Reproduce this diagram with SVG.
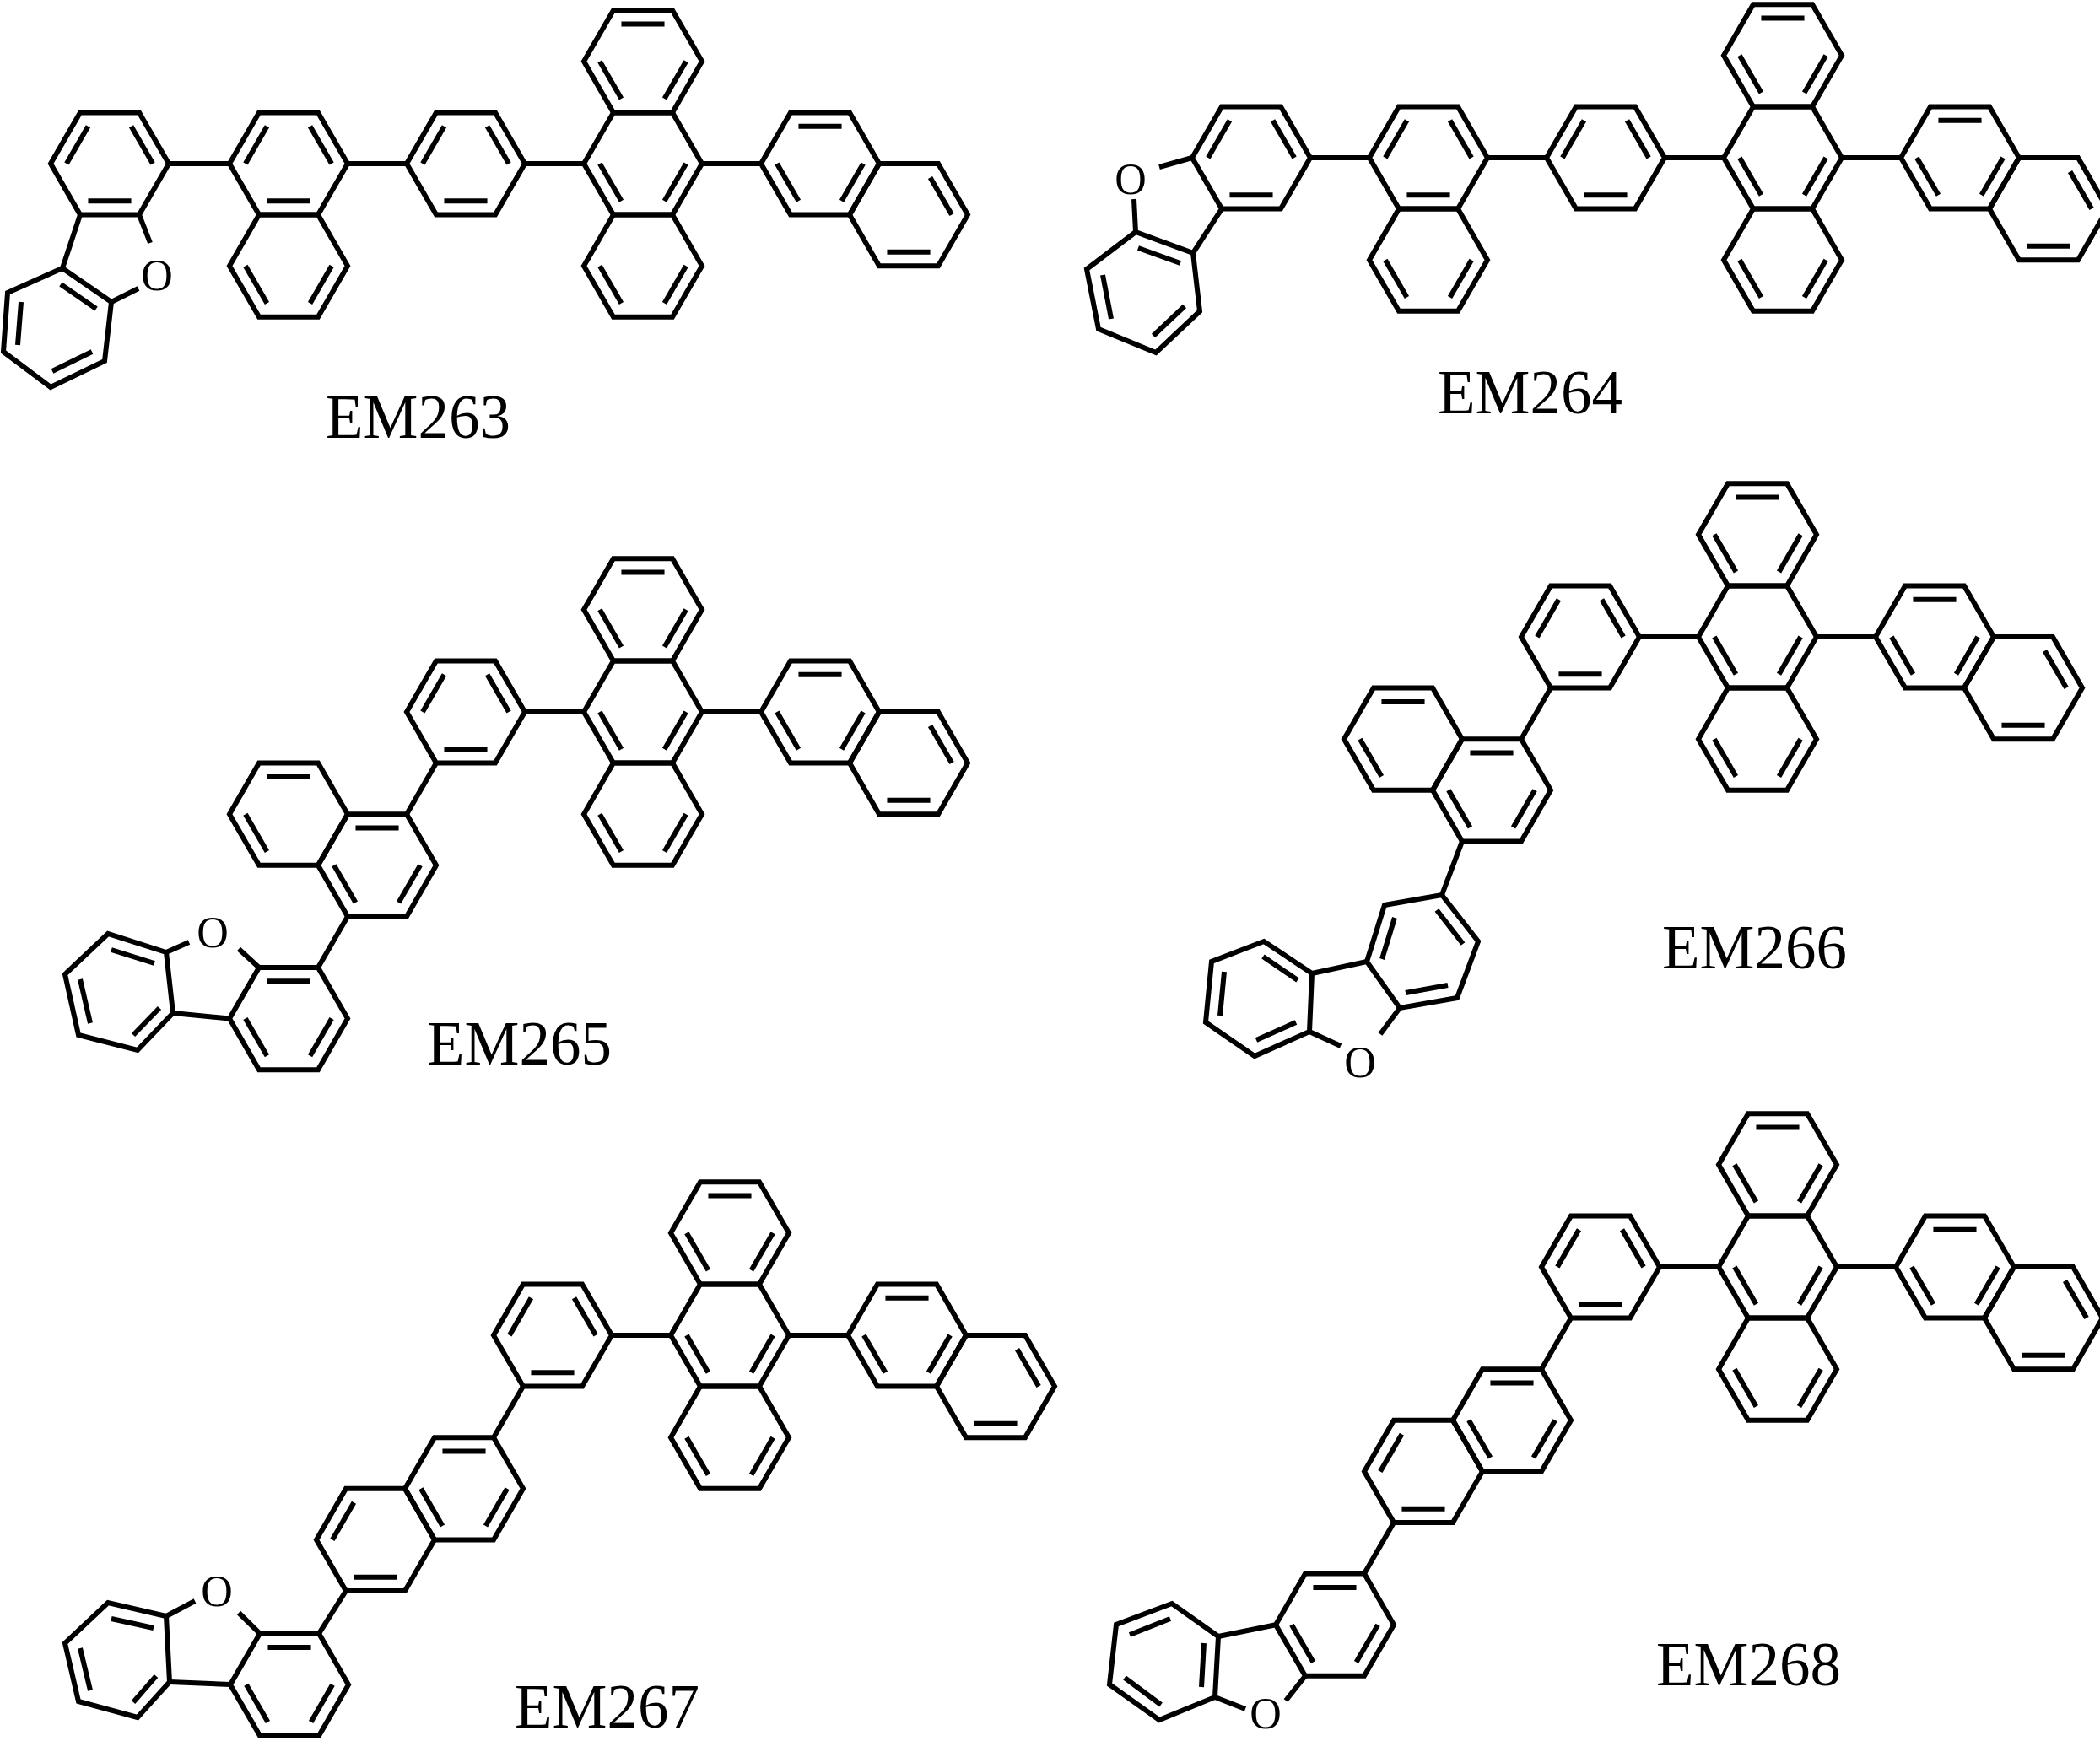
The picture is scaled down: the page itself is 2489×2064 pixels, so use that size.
<svg xmlns="http://www.w3.org/2000/svg" xmlns:xlink="http://www.w3.org/1999/xlink" width="2489" height="2064" viewBox="0 0 2489 2064">
<style>
.b,use,line,polygon{stroke:#000;stroke-width:6;fill:none;stroke-linejoin:miter}
text{font-family:"Liberation Serif","Times New Roman",serif;fill:#000}
.lbl{font-size:73px}
.o{font-size:52px;text-anchor:middle}
</style>
<defs>
<path id="hex" d="M70,0 L35,60.62 L-35,60.62 L-70,0 L-35,-60.62 L35,-60.62Z"/>
<path id="T" d="M-25.55,-44.24 L25.55,-44.24"/>
<path id="TR" d="M25.55,-44.24 L51.1,0"/>
<path id="BR" d="M51.1,0 L25.55,44.24"/>
<path id="B" d="M25.55,44.24 L-25.55,44.24"/>
<path id="BL" d="M-25.55,44.24 L-51.1,0"/>
<path id="TL" d="M-51.1,0 L-25.55,-44.24"/>
<g id="ph"><use href="#hex"/><use href="#TL"/><use href="#TR"/><use href="#B"/></g>
<g id="an">
<g transform="translate(0,-121.24)"><use href="#hex"/><use href="#T"/><use href="#BL"/><use href="#BR"/></g>
<use href="#hex"/><use href="#BL"/><use href="#BR"/>
<g transform="translate(0,121.24)"><use href="#hex"/><use href="#BL"/><use href="#BR"/></g>
<line x1="70" y1="0" x2="140" y2="0"/>
<line x1="-70" y1="0" x2="-140" y2="0"/>
<g transform="translate(210,0)"><use href="#hex"/><use href="#T"/><use href="#BL"/><use href="#BR"/></g>
<g transform="translate(315,60.62)"><use href="#hex"/><use href="#TR"/><use href="#B"/></g>
</g>
<g id="np14"><use href="#hex"/><use href="#TL"/><use href="#TR"/><use href="#B"/>
<g transform="translate(0,121.24)"><use href="#hex"/><use href="#BL"/><use href="#BR"/></g></g>
<g id="n1"><use href="#hex"/><use href="#T"/><use href="#BL"/><use href="#BR"/></g>
<g id="n2a"><use href="#hex"/><use href="#T"/><use href="#BL"/></g>
<g id="n2b"><use href="#hex"/><use href="#TL"/><use href="#B"/></g>
</defs>

<g id="EM263">
<use href="#an" x="762" y="194"/>
<use href="#ph" x="552" y="194"/>
<line x1="482" y1="194" x2="412" y2="194"/>
<use href="#np14" x="342" y="194"/>
<line x1="272" y1="194" x2="200" y2="194"/>
<use href="#ph" x="130" y="194"/>
<line x1="165" y1="254.6" x2="178" y2="288"/>
<line x1="95" y1="254.6" x2="74" y2="318"/>
<line x1="164" y1="342" x2="132" y2="358"/>
<polygon points="74,318 132,358 124,428 60,459 4,417 9,347"/>
<line x1="72" y1="337" x2="114" y2="366"/>
<line x1="21" y1="409" x2="25" y2="358"/>
<line x1="109" y1="417" x2="62" y2="440"/>
<text class="o" x="186" y="344">O</text>
<text class="lbl" x="386" y="519">EM263</text>
</g>

<g id="EM264">
<use href="#an" x="2113" y="187"/>
<use href="#ph" x="1903" y="187"/>
<line x1="1833" y1="187" x2="1763" y2="187"/>
<use href="#np14" x="1693" y="187"/>
<line x1="1623" y1="187" x2="1553" y2="187"/>
<use href="#ph" x="1483" y="187"/>
<line x1="1413" y1="187" x2="1374" y2="198"/>
<line x1="1448" y1="247.6" x2="1414" y2="300"/>
<line x1="1344" y1="236" x2="1346" y2="275"/>
<polygon points="1346,275 1414,300 1422,369 1370,418 1302,390 1288,319"/>
<line x1="1349" y1="294" x2="1399" y2="312"/>
<line x1="1317" y1="378" x2="1307" y2="326"/>
<line x1="1404" y1="363" x2="1367" y2="398"/>
<text class="o" x="1340" y="230">O</text>
<text class="lbl" x="1704" y="490">EM264</text>
</g>

<g id="EM265">
<use href="#an" x="762" y="844"/>
<use href="#ph" x="552" y="844"/>
<line x1="517" y1="904.6" x2="482" y2="965.2"/>
<use href="#n1" x="447" y="1025.8"/>
<use href="#n2a" x="342" y="965.2"/>
<line x1="412" y1="1086.4" x2="377" y2="1147"/>
<use href="#n1" x="342" y="1207.6"/>
<line x1="307" y1="1147" x2="283" y2="1125"/>
<line x1="272" y1="1207.6" x2="205" y2="1201"/>
<line x1="224" y1="1117" x2="197" y2="1129"/>
<polygon points="197,1129 128,1107 77,1155 93,1227 163,1245 205,1201"/>
<line x1="183" y1="1142" x2="132" y2="1126"/>
<line x1="95" y1="1161" x2="107" y2="1213"/>
<line x1="158" y1="1227" x2="189" y2="1195"/>
<text class="o" x="252" y="1123">O</text>
<text class="lbl" x="506" y="1262">EM265</text>
</g>

<g id="EM266">
<use href="#an" x="2083" y="755"/>
<use href="#ph" x="1873" y="755"/>
<line x1="1838" y1="815.6" x2="1803" y2="876.2"/>
<use href="#n1" x="1768" y="936.8"/>
<use href="#n2a" x="1663" y="876.2"/>
<line x1="1733" y1="997.4" x2="1709" y2="1061"/>
<polygon points="1709,1061 1752,1116 1727,1183 1659,1195 1620,1140 1641,1073"/>
<line x1="1638" y1="1137" x2="1653" y2="1088"/>
<line x1="1703" y1="1079" x2="1734" y2="1119"/>
<line x1="1716" y1="1168" x2="1666" y2="1177"/>
<line x1="1620" y1="1140" x2="1555" y2="1154"/>
<polygon points="1555,1154 1498,1116 1436,1140 1429,1212 1487,1252 1552,1223"/>
<line x1="1538" y1="1162" x2="1497" y2="1134"/>
<line x1="1451" y1="1152" x2="1446" y2="1204"/>
<line x1="1489" y1="1233" x2="1536" y2="1212"/>
<line x1="1552" y1="1223" x2="1589" y2="1240"/>
<line x1="1659" y1="1195" x2="1636" y2="1226"/>
<text class="o" x="1612" y="1277">O</text>
<text class="lbl" x="1970" y="1148">EM266</text>
</g>

<g id="EM267">
<use href="#an" x="865" y="1583"/>
<use href="#ph" x="655" y="1583"/>
<line x1="620" y1="1643.6" x2="585" y2="1704.2"/>
<use href="#n1" x="550" y="1764.8"/>
<use href="#n2b" x="445" y="1825.4"/>
<line x1="410" y1="1886" x2="378" y2="1936.6"/>
<use href="#n1" x="343" y="1997.2"/>
<line x1="308" y1="1936.6" x2="283" y2="1912"/>
<line x1="273" y1="1997" x2="201" y2="1994"/>
<line x1="231" y1="1898" x2="197" y2="1916"/>
<polygon points="197,1916 128,1900 77,1948 93,2017 163,2036 201,1994"/>
<line x1="182" y1="1930" x2="132" y2="1919"/>
<line x1="95" y1="1954" x2="107" y2="2004"/>
<line x1="158" y1="2018" x2="185" y2="1987"/>
<text class="o" x="257" y="1904">O</text>
<text class="lbl" x="610" y="2048">EM267</text>
</g>

<g id="EM268">
<use href="#an" x="2107" y="1502"/>
<use href="#ph" x="1897" y="1502"/>
<line x1="1862" y1="1562.6" x2="1827" y2="1623.2"/>
<use href="#n1" x="1792" y="1683.8"/>
<use href="#n2b" x="1687" y="1744.4"/>
<line x1="1652" y1="1805" x2="1617" y2="1865.6"/>
<use href="#n1" x="1582" y="1926.2"/>
<line x1="1512" y1="1926.2" x2="1444" y2="1940"/>
<polygon points="1444,1940 1389,1901 1323,1926 1315,1997 1374,2039 1440,2012"/>
<line x1="1339" y1="1938" x2="1387" y2="1919"/>
<line x1="1427" y1="1948" x2="1424" y2="2000"/>
<line x1="1333" y1="1989" x2="1376" y2="2021"/>
<line x1="1440" y1="2012" x2="1476" y2="2026"/>
<line x1="1547" y1="1986.8" x2="1524" y2="2016"/>
<text class="o" x="1500" y="2049">O</text>
<text class="lbl" x="1963" y="1998">EM268</text>
</g>
</svg>
